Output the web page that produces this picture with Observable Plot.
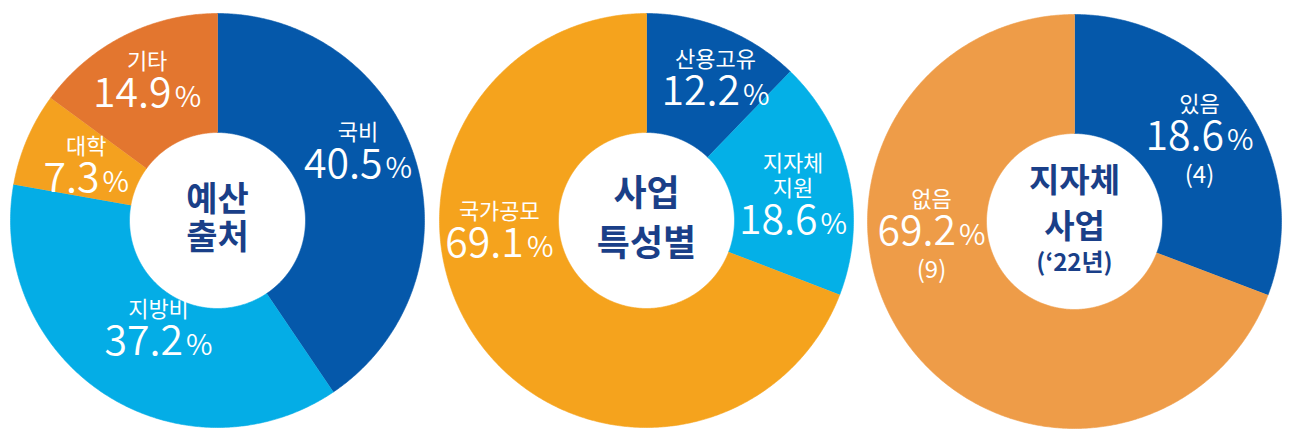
<!DOCTYPE html>
<html>
<head>
<meta charset="utf-8">
<script src="https://cdn.jsdelivr.net/npm/d3@7"></script>
<script src="https://cdn.jsdelivr.net/npm/@observablehq/plot@0.6"></script>
<style>
  html, body { margin: 0; padding: 0; background: #fff; }
  #chart svg { display: block; }
</style>
</head>
<body>
<div id="chart"></div>
<script>
// ---------------- data ----------------
const chartTitles = [["예산", "출처"], ["사업", "특성별"], ["지자체", "사업", "(‘22년)"]];

const budgetCategories = ["국비", "지방비", "대학", "기타"];
const budgetShares = [40.5, 37.2, 7.3, 14.9];

const projectCategories = ["산용고유", "지자체\n지원", "국가공모"];
const projectShares = [12.2, 18.6, 69.1];

const localCategories = ["있음", "없음"];
const localCounts = [4, 9];
const localShares = [18.6, 69.2];

// ---------------- styles / layout ----------------
const FONT = "'Noto Sans CJK KR', 'Noto Sans', sans-serif";
const W = 1296, H = 447;
const R = 207, r = 88, rho = 147;
const centers = [[217, 220], [646, 220], [1074, 221]];
const palettes = [
  ["#0558aa", "#04ade6", "#f4a11f", "#e3762f"],
  ["#0558aa", "#04b0e7", "#f5a31d"],
  ["#0558aa", "#ee9c48"]
];
// per-slice label nudges from the ring centroid [dx, dy]
const nudges = [
  [[0, 1], [21, 11], [4, 29], [-4, 18]],
  [[14, 21], [3, 45], [-26, -47]],
  [[4, 12], [-22, -60]]
];
const titleSizes = [[34, 34], [36, 36], [33, 33, 24]];
const titleBaselines = [[-10, 28], [-15, 35], [-30, 16, 49]];
const NAME_SIZE = 22, NUM_SIZE = 41, PCT_SIZE = 29, COUNT_SIZE = 24, NAME_GAP = 38;
const NAME_WEIGHT = 400, NUM_WEIGHT = 350;

const charts = [
  {cats: budgetCategories, sizes: budgetShares, shares: budgetShares},
  {cats: projectCategories, sizes: projectShares, shares: projectShares},
  {cats: localCategories, sizes: localCounts, shares: localShares, counts: localCounts}
];

const ctx = document.createElement("canvas").getContext("2d");
function textWidth(str, size, weight = NUM_WEIGHT) {
  ctx.font = `${weight} ${size}px "Noto Sans CJK KR"`;
  return ctx.measureText(str).width;
}

const ringPts = [], keys = [], colors = [];
const names = [], nums = [], pcts = [], counts = [], titles = [];

charts.forEach((c, ci) => {
  const [cx, cy] = centers[ci];
  const arcs = d3.pie().sort(null).value(d => d)(c.sizes);
  arcs.forEach((a, i) => {
    const key = ci + "|" + c.cats[i];
    keys.push(key); colors.push(palettes[ci][i]);
    const n = Math.max(2, Math.ceil((a.endAngle - a.startAngle) / (Math.PI / 360)));
    for (let k = 0; k <= n; k++) {
      const t = a.startAngle + (a.endAngle - a.startAngle) * k / n;
      ringPts.push({key, x: cx + R * Math.sin(t), y: cy - R * Math.cos(t)});
    }
    for (let k = n; k >= 0; k--) {
      const t = a.startAngle + (a.endAngle - a.startAngle) * k / n;
      ringPts.push({key, x: cx + r * Math.sin(t), y: cy - r * Math.cos(t)});
    }
    // label anchor: centroid of ring + nudge
    const mid = (a.startAngle + a.endAngle) / 2;
    const lx = cx + rho * Math.sin(mid) + nudges[ci][i][0];
    const ly = cy - rho * Math.cos(mid) + nudges[ci][i][1];
    const numStr = c.shares[i].toFixed(1);
    const wN = textWidth(numStr, NUM_SIZE), wP = textWidth("%", PCT_SIZE), gap = 3;
    const total = wN + gap + wP;
    const numEnd = lx - total / 2 + wN;
    nums.push({x: numEnd, y: ly, text: numStr});
    pcts.push({x: numEnd + gap, y: ly, text: "%"});
    names.push({x: lx, y: ly - NAME_GAP, text: c.cats[i]});
    if (c.counts) counts.push({x: lx, y: ly + 33, text: `(${c.counts[i]})`});
  });
  chartTitles[ci].forEach((t, j) => {
    titles.push({x: cx, y: cy + titleBaselines[ci][j], text: t, size: titleSizes[ci][j]});
  });
});

const plot = Plot.plot({
  width: W, height: H, margin: 0,
  style: {background: "#fff", fontFamily: FONT},
  x: {domain: [0, W], range: [0, W], axis: null},
  y: {domain: [0, H], range: [0, H], axis: null},
  color: {domain: keys, range: colors},
  marks: [
    Plot.line(ringPts, {x: "x", y: "y", z: "key", fill: "key", stroke: "key", strokeWidth: 0.6, curve: "linear"}),
    Plot.text(names, {x: "x", y: "y", text: "text", fill: "white", fontSize: NAME_SIZE, fontWeight: NAME_WEIGHT, lineAnchor: "bottom", lineHeight: 1.14, textAnchor: "middle", fontFamily: FONT}),
    Plot.text(nums, {x: "x", y: "y", text: "text", fill: "white", fontSize: NUM_SIZE, fontWeight: NUM_WEIGHT, lineAnchor: "bottom", textAnchor: "end", fontFamily: FONT}),
    Plot.text(pcts, {x: "x", y: "y", text: "text", fill: "white", fontSize: PCT_SIZE, fontWeight: NUM_WEIGHT, lineAnchor: "bottom", textAnchor: "start", fontFamily: FONT}),
    Plot.text(counts, {x: "x", y: "y", text: "text", fill: "white", fontSize: COUNT_SIZE, fontWeight: NAME_WEIGHT, lineAnchor: "bottom", textAnchor: "middle", fontFamily: FONT}),
    Plot.text(titles, {x: "x", y: "y", text: "text", fill: "#1a3f88", fontSize: "size", fontWeight: 700, lineAnchor: "bottom", textAnchor: "middle", fontFamily: FONT})
  ]
});
document.getElementById("chart").appendChild(plot);
</script>
</body>
</html>
